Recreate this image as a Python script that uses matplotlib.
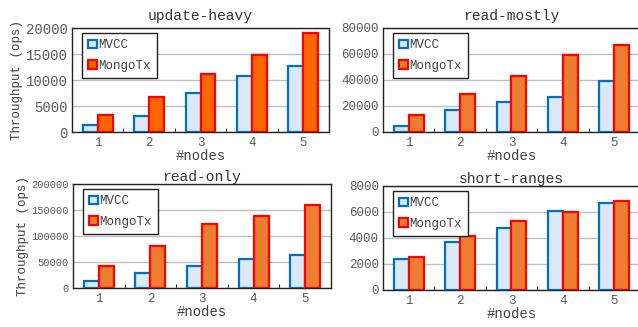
import numpy as np
import matplotlib
matplotlib.use('Agg')
import matplotlib.pyplot as plt

plt.rcParams['font.family'] = ['Liberation Mono', 'DejaVu Sans Mono']

# Data
nodes = [1, 2, 3, 4, 5]
titles = ['update-heavy', 'read-mostly', 'read-only', 'short-ranges']
mvcc_update = [1400, 3000, 7500, 10800, 12700]
mongo_update = [3300, 6800, 11200, 14900, 19000]
mvcc_mostly = [5000, 16800, 23400, 26800, 39200]
mongo_mostly = [13200, 29300, 43100, 59600, 67300]
mvcc_readonly = [14000, 28800, 41400, 56200, 63900]
mongo_readonly = [41400, 81700, 122700, 138600, 159700]
mvcc_short = [2380, 3680, 4750, 6060, 6720]
mongo_short = [2560, 4140, 5290, 6030, 6850]
ymax = [20000, 80000, 200000, 8000]
ystep = [5000, 20000, 50000, 2000]

series = [(mvcc_update, mongo_update), (mvcc_mostly, mongo_mostly),
          (mvcc_readonly, mongo_readonly), (mvcc_short, mongo_short)]
mongo_face = ['#ff6600', '#ed7d31', '#ed7d31', '#ed7d31']
ytick_size = [10, 9, 7.5, 9]

# axes rectangles in figure fractions [left, bottom, width, height]
W, H = 638, 327
rects = [
    [72 / W, 1 - 132 / H, 257 / W, 104 / H],
    [383 / W, 1 - 132 / H, 257 / W, 104 / H],
    [73 / W, 1 - 288 / H, 258 / W, 104 / H],
    [383 / W, 1 - 290 / H, 257 / W, 104 / H],
]

fig = plt.figure(figsize=(W / 100, H / 100), dpi=100)
x = np.array(nodes)
bw = 0.29

for i in range(4):
    ax = fig.add_axes(rects[i])
    mv, mg = series[i]
    ax.bar(x - bw / 2, mv, bw, color='#dbe8f5', edgecolor='#0070c0',
           linewidth=1.6, label='MVCC', zorder=3)
    ax.bar(x + bw / 2, mg, bw, color=mongo_face[i], edgecolor='#ff0000',
           linewidth=1.6, label='MongoTx', zorder=3)
    ax.set_xlim(0.5, 5.5)
    ax.set_ylim(0, ymax[i])
    ax.set_yticks(np.arange(0, ymax[i] + 1, ystep[i]))
    ax.set_xticks(nodes)
    ax.set_xticks([1.5, 2.5, 3.5, 4.5], minor=True)
    ax.yaxis.grid(True, color='#bfbfbf', linewidth=1, zorder=0)
    ax.tick_params(axis='x', which='major', length=0, pad=3.5,
                   labelsize=9, labelcolor='#595959')
    ax.tick_params(axis='x', which='minor', direction='in', length=3,
                   width=0.8, color='#333333')
    ax.tick_params(axis='y', length=0, pad=3, labelsize=ytick_size[i],
                   labelcolor='#595959')
    for s in ax.spines.values():
        s.set_color('#222222')
        s.set_linewidth(1)
    ax.set_title(titles[i], fontsize=10.5, color='#333333',
                 pad=6 if i < 2 else 1)
    ax.set_xlabel('#nodes', fontsize=10, color='#404040', labelpad=0)
    if i % 2 == 0:
        ax.set_ylabel('Throughput (ops)', fontsize=9, color='#404040',
                      labelpad=2)
    leg = ax.legend(loc='upper left', bbox_to_anchor=(0.038, 0.95),
                    fontsize=9, frameon=True, fancybox=False,
                    edgecolor='#222222', framealpha=1, borderpad=0.5,
                    handlelength=0.7, handleheight=0.7, handletextpad=0.15,
                    labelspacing=0.7, borderaxespad=0)
    leg.get_frame().set_linewidth(1)
    for t in leg.get_texts():
        t.set_color('#404040')

fig.savefig('out.png', dpi=100)
